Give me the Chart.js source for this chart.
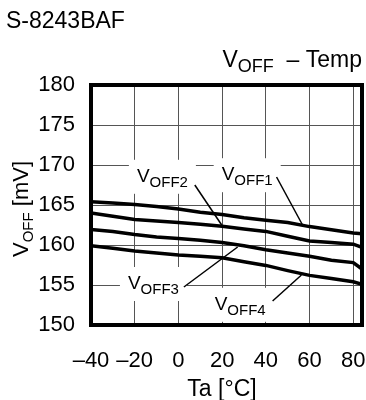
<!DOCTYPE html>
<html>
<head>
<meta charset="utf-8">
<script src="https://cdn.jsdelivr.net/npm/chart.js@4.4.0/dist/chart.umd.min.js"></script>
<style>
  html, body { margin: 0; padding: 0; background: #fff; }
  #wrap { width: 366px; height: 400px; }
</style>
</head>
<body>
<div id="wrap"><canvas id="voffChart" width="366" height="400"></canvas></div>
<script>
// ambient temperature in degC
var temps = [-40, -30, -20, -10, 0, 10, 20, 30, 40, 50, 60, 70, 80, 84];
// overdischarge release voltages in mV
var voff1 = [165.4, 165.25, 165.05, 164.8, 164.5, 164.1, 163.8, 163.4, 163.1, 162.8, 162.3, 161.9, 161.5, 161.4];
var voff2 = [164.0, 163.6, 163.2, 163.0, 162.8, 162.6, 162.35, 162.0, 161.7, 161.1, 160.5, 160.3, 160.1, 159.7];
var voff3 = [161.95, 161.7, 161.3, 161.0, 160.8, 160.6, 160.3, 159.9, 159.4, 159.0, 158.6, 158.1, 157.8, 157.0];
var voff4 = [159.9, 159.6, 159.25, 159.0, 158.75, 158.6, 158.4, 157.9, 157.45, 156.8, 156.2, 155.8, 155.4, 155.1];

var xTicks = [-40, -20, 0, 20, 40, 60, 80];
var yTicks = [150, 155, 160, 165, 170, 175, 180];

// curve labels: text position and leader line ends, in data units
var curveLabels = [
  { sub: "OFF2", t: -19, v: 167.9, from: [7.5, 167.5], to: [19.8, 162.5] },
  { sub: "OFF1", t: 19.8, v: 168.1, from: [44.9, 168.5], to: [56.8, 162.5] },
  { sub: "OFF3", t: -23.1, v: 154.5, from: [2.5, 154.75], to: [27.1, 159.75] },
  { sub: "OFF4", t: 16.6, v: 151.9, from: [43.1, 153.0], to: [56.3, 156.25] }
];

var FONT = "'Liberation Sans', Arial, sans-serif";

function makeSet(vals) {
  return {
    data: temps.map((t, i) => ({ x: t, y: vals[i] })),
    borderColor: "#000",
    borderWidth: 3.5,
    pointRadius: 0,
    tension: 0,
    fill: false
  };
}

// draws "V" followed by a subscript, returns end x
function drawV(ctx, x, y, sub, size, subSize) {
  ctx.font = size + "px " + FONT;
  ctx.fillText("V", x, y);
  var w = ctx.measureText("V").width;
  ctx.font = subSize + "px " + FONT;
  ctx.fillText(sub, x + w, y + 5);
  return x + w + ctx.measureText(sub).width;
}

var textPlugin = {
  id: "voffText",
  afterDraw(chart) {
    var ctx = chart.ctx;
    var a = chart.chartArea;
    var xs = chart.scales.x, ys = chart.scales.y;
    ctx.save();
    ctx.fillStyle = "#000";
    ctx.strokeStyle = "#000";
    ctx.textBaseline = "alphabetic";
    ctx.textAlign = "left";

    // curve labels with white boxes and leader lines
    curveLabels.forEach(l => {
      var x = xs.getPixelForValue(l.t);
      var y = ys.getPixelForValue(l.v);
      ctx.font = "19px " + FONT;
      var w = ctx.measureText("V").width;
      ctx.font = "15px " + FONT;
      w += ctx.measureText(l.sub).width;
      ctx.fillStyle = "#fff";
      ctx.fillRect(x - 8, y - 22, w + 16, 34);
      ctx.fillStyle = "#000";
      drawV(ctx, x, y, l.sub, 19, 15);
      ctx.lineWidth = 1.5;
      ctx.beginPath();
      ctx.moveTo(xs.getPixelForValue(l.from[0]), ys.getPixelForValue(l.from[1]));
      ctx.lineTo(xs.getPixelForValue(l.to[0]), ys.getPixelForValue(l.to[1]));
      ctx.stroke();
    });

    // frame
    ctx.lineWidth = 4;
    ctx.strokeRect(a.left, a.top, a.right - a.left, a.bottom - a.top);

    // header
    ctx.font = "23px " + FONT;
    ctx.fillText("S-8243BAF", 6, 28);

    // chart title, right aligned
    ctx.font = "23px " + FONT;
    var rest = "  \u2013 Temp";
    var wRest = ctx.measureText(rest).width;
    var wV = ctx.measureText("V").width;
    ctx.font = "18px " + FONT;
    var wSub = ctx.measureText("OFF").width;
    var tx = a.right - wRest - wV - wSub;
    var ex = drawV(ctx, tx, 67, "OFF", 23, 18);
    ctx.font = "23px " + FONT;
    ctx.fillText(rest, ex, 67);

    // x title
    ctx.textAlign = "center";
    ctx.fillText("Ta [\u00b0C]", 222, 396);

    // y title, rotated
    ctx.translate(28, (a.top + a.bottom) / 2 + 4);
    ctx.rotate(-Math.PI / 2);
    ctx.font = "22px " + FONT;
    var yRest = " [mV]";
    var wTot = ctx.measureText("V" + yRest).width;
    ctx.font = "15px " + FONT;
    wTot += ctx.measureText("OFF").width;
    ctx.textAlign = "left";
    var yx = drawV(ctx, -wTot / 2, 0, "OFF", 22, 15);
    ctx.font = "22px " + FONT;
    ctx.fillText(yRest, yx, 0);
    ctx.restore();
  }
};

new Chart(document.getElementById("voffChart"), {
  type: "line",
  data: { datasets: [makeSet(voff1), makeSet(voff2), makeSet(voff3), makeSet(voff4)] },
  options: {
    responsive: false,
    animation: false,
    layout: { autoPadding: false, padding: { top: 85, right: 4, left: 0, bottom: 0 } },
    plugins: { legend: { display: false }, tooltip: { enabled: false } },
    scales: {
      x: {
        type: "linear",
        min: -40,
        max: 84,
        afterBuildTicks: s => { s.ticks = xTicks.map(v => ({ value: v })); },
        afterFit: s => {
          s.height = 75;
          s.paddingLeft = 0;
          s.paddingRight = 0;
        },
        grid: { color: "#555", lineWidth: 1, drawTicks: false },
        border: { display: false },
        ticks: {
          color: "#000",
          padding: 23,
          maxRotation: 0,
          font: { family: FONT, size: 22 },
          callback: v => v < 0 ? "\u2013" + Math.abs(v) : String(v)
        }
      },
      y: {
        min: 150,
        max: 180,
        afterBuildTicks: s => { s.ticks = yTicks.map(v => ({ value: v })); },
        afterFit: s => {
          s.width = 91;
          s.paddingTop = 0;
          s.paddingBottom = 0;
        },
        grid: { color: "#555", lineWidth: 1, drawTicks: false },
        border: { display: false },
        ticks: {
          color: "#000",
          padding: 16,
          font: { family: FONT, size: 22 }
        }
      }
    }
  },
  plugins: [textPlugin]
});
</script>
</body>
</html>
